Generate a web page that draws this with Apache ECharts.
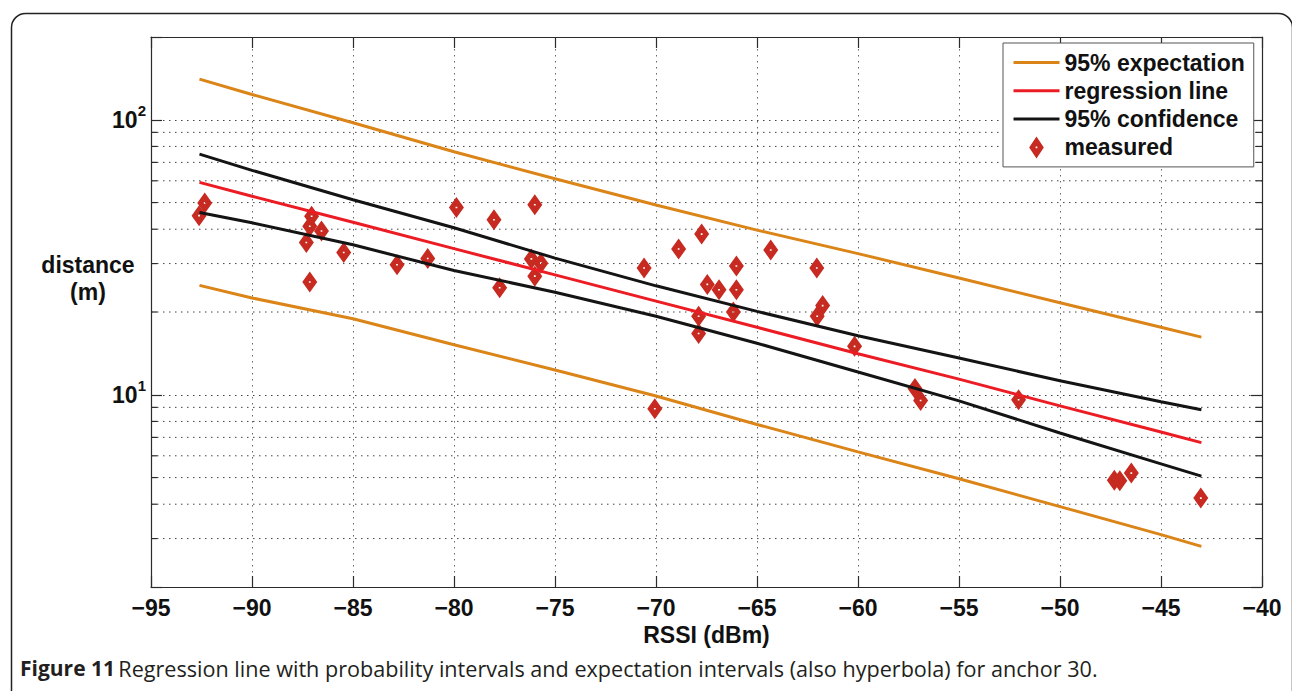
<!DOCTYPE html>
<html><head><meta charset="utf-8">
<script src="https://cdn.jsdelivr.net/npm/echarts@6/dist/echarts.min.js"></script>
<style>html,body{margin:0;padding:0;background:#fff}#c{width:1292px;height:691px}</style>
</head><body><div id="c"></div>
<script>
// ---- data ----
const xMin = -95, xMax = -40, xStep = 5;
const yMin = 2, yMax = 200;
const yMinorTicks = [3, 4, 5, 6, 7, 8, 9, 20, 30, 40, 50, 60, 70, 80, 90];
const curveX = [-92.6, -90, -85, -80, -75, -70, -65, -60, -55, -50, -45, -43];
const expUpper = [140.6, 123.6, 97.5, 76.5, 61.0, 49.0, 39.7, 32.6, 26.6, 21.6, 17.6, 16.2];
const expLower = [25.0, 22.5, 18.9, 15.2, 12.3, 9.9, 7.8, 6.2, 4.95, 3.92, 3.1, 2.81];
const regLine  = [59.2, 52.7, 42.4, 34.0, 27.3, 21.9, 17.6, 14.1, 11.4, 9.11, 7.32, 6.70];
const confUpper = [75, 65.5, 51.2, 40.5, 31.4, 24.9, 20.1, 16.4, 13.6, 11.25, 9.44, 8.82];
const confLower = [46.0, 42.2, 35.1, 28.3, 23.6, 19.3, 15.4, 12.1, 9.5, 7.26, 5.61, 5.06];
const measuredX = [-92.62, -92.34, -87.31, -87.14, -87.05, -86.56, -87.14, -85.46, -82.82, -81.3,
  -79.88, -78.02, -77.74, -76.0, -76.17, -75.7, -76.0, -70.59, -70.06, -68.88,
  -67.74, -67.46, -66.88, -66.02, -66.02, -67.89, -67.89, -66.17, -64.32, -62.04,
  -61.75, -62.02, -60.17, -57.18, -56.9, -52.05, -47.31, -47.04, -46.47, -43.03];
const measuredY = [44.8, 49.8, 35.8, 41.0, 44.6, 39.4, 25.7, 32.9, 29.7, 31.3,
  48.0, 43.3, 24.5, 49.1, 31.2, 30.1, 27.0, 28.9, 8.9, 33.9,
  38.4, 25.2, 24.1, 29.4, 24.1, 19.3, 16.7, 20.0, 33.6, 28.9,
  21.1, 19.3, 15.0, 10.55, 9.53, 9.59, 4.89, 4.87, 5.19, 4.21];
const legendNames = ['95% expectation', 'regression line', '95% confidence', 'measured'];
const captionBold = 'Figure 11';
const captionText = 'Regression line with probability intervals and expectation intervals (also hyperbola) for anchor 30.';

// ---- styles ----
const ORANGE = '#db8418', RED = '#ec1c24', BLACK = '#141414', MARK = '#c72a20';
const FONT = 'Liberation Sans, Arial, Helvetica, sans-serif';
const diamond = 'path://M6,0 L12,9 L6,18 L0,9 Z M5.3,8.3 L5.3,9.7 L6.7,9.7 L6.7,8.3 Z';
const pair = (xs, ys) => xs.map((x, i) => [x, ys[i]]);
const minus = v => (v < 0 ? '\u2212' + Math.abs(v) : String(v));
const dotted = [1.5, 4.5];

const chart = echarts.init(document.getElementById('c'), null, {renderer: 'svg'});
const lineSeries = (name, data, color) => ({
  type: 'line', name, data, xAxisIndex: 0, yAxisIndex: 0, symbol: 'none', z: 3,
  lineStyle: {color, width: 3}, itemStyle: {color}, silent: true, animation: false
});
const legendItem = name => name === 'measured'
  ? {name, icon: diamond, itemStyle: {color: MARK}}
  : {name, itemStyle: {opacity: 0}, lineStyle: {width: 3}};

chart.setOption({
  animation: false,
  backgroundColor: '#fff',
  grid: {left: 151, right: 30, top: 37, bottom: 104, containLabel: false},
  xAxis: [{
    type: 'value', min: xMin, max: xMax, interval: xStep, position: 'bottom',
    axisLine: {show: true, lineStyle: {color: '#2b2b2b', width: 1.2}},
    axisTick: {show: true, inside: true, length: 11, lineStyle: {color: '#2b2b2b', width: 1.2}},
    axisLabel: {formatter: minus, margin: 9, color: '#111', fontSize: 23, fontWeight: 'bold', fontFamily: FONT},
    splitLine: {show: true, lineStyle: {color: '#666', width: 1, type: dotted}},
    name: 'RSSI (dBm)', nameLocation: 'middle', nameGap: 33,
    nameTextStyle: {color: '#111', fontSize: 23, fontWeight: 'bold', fontFamily: FONT}
  }, {
    type: 'value', min: xMin, max: xMax, interval: xStep, position: 'top',
    axisLine: {show: true, lineStyle: {color: '#2b2b2b', width: 1.2}},
    axisTick: {show: true, inside: true, length: 11, lineStyle: {color: '#2b2b2b', width: 1.2}},
    axisLabel: {show: false}, splitLine: {show: false}
  }],
  yAxis: [{
    type: 'log', logBase: 10, min: yMin, max: yMax, position: 'left',
    axisLine: {show: true, lineStyle: {color: '#2b2b2b', width: 1.2}},
    axisTick: {show: true, inside: true, length: 11, lineStyle: {color: '#2b2b2b', width: 1.2}},
    axisLabel: {
      margin: 5, color: '#111', fontFamily: FONT,
      formatter: v => Math.abs(v - 10) < 1e-6 ? '{b|10}{s|1}' : (Math.abs(v - 100) < 1e-6 ? '{b|10}{s|2}' : ''),
      rich: {
        b: {fontSize: 23, fontWeight: 'bold', fontFamily: FONT, color: '#111', lineHeight: 34},
        s: {fontSize: 15, fontWeight: 'bold', fontFamily: FONT, color: '#111', lineHeight: 15, verticalAlign: 'top'}
      }
    },
    splitLine: {show: true, lineStyle: {color: '#444', width: 1, type: dotted}}
  }, {
    type: 'log', logBase: 10, min: yMin, max: yMax, position: 'right',
    axisLine: {show: true, lineStyle: {color: '#2b2b2b', width: 1.2}},
    axisTick: {show: true, inside: true, length: 11, lineStyle: {color: '#2b2b2b', width: 1.2}},
    axisLabel: {show: false}, splitLine: {show: false}
  }],
  legend: {
    data: legendNames.map(legendItem), orient: 'vertical', left: 1003, top: 43,
    padding: [8, 9, 8, 9], itemWidth: 46, itemHeight: 22, itemGap: 5.3,
    backgroundColor: '#fff', borderColor: '#555', borderWidth: 1, borderRadius: 0,
    textStyle: {color: '#111', fontSize: 23, lineHeight: 22, fontWeight: 'bold', fontFamily: FONT},
    selectedMode: false, z: 10
  },
  graphic: [
    {type: 'rect', left: 9, top: 11, shape: {width: 1281, height: 720, r: 14},
     style: {fill: 'none', stroke: '#222', lineWidth: 1.5}, silent: true, z: -1},
    {type: 'text', x: 88, y: 278, style: {text: 'distance\n(m)', align: 'center', verticalAlign: 'middle',
      fontSize: 23, fontWeight: 'bold', fontFamily: FONT, fill: '#111', lineHeight: 27}},
    {type: 'text', x: 20, y: 668, style: {
      text: '{b|' + captionBold + '} {r|' + captionText + '}', verticalAlign: 'middle', align: 'left',
      rich: {
        b: {fontSize: 21, fontWeight: 'bold', fontFamily: 'Open Sans, sans-serif', fill: '#231f20'},
        r: {fontSize: 21.6, fontFamily: 'Open Sans, sans-serif', fill: '#231f20'}
      }}}
  ],
  series: [
    {type: 'scatter', name: 'measured', data: pair(measuredX, measuredY), xAxisIndex: 0, yAxisIndex: 0,
     symbol: diamond, symbolSize: [15, 21], itemStyle: {color: MARK, opacity: 1}, z: 2, silent: true},
    {type: 'custom', name: 'minor-grid', xAxisIndex: 0, yAxisIndex: 0, silent: true, z: 1,
     data: yMinorTicks.map(v => [xMin, v]), encode: {x: 0, y: 1},
     renderItem: (params, api) => {
       const cs = params.coordSys;
       const y = api.coord([api.value(0), api.value(1)])[1];
       const solid = {stroke: '#2b2b2b', lineWidth: 1.2};
       return {type: 'group', children: [
         {type: 'line', shape: {x1: cs.x, y1: y, x2: cs.x + cs.width, y2: y},
          style: {stroke: '#444', lineWidth: 1, lineDash: dotted}},
         {type: 'line', shape: {x1: cs.x, y1: y, x2: cs.x + 6, y2: y}, style: solid},
         {type: 'line', shape: {x1: cs.x + cs.width - 6, y1: y, x2: cs.x + cs.width, y2: y}, style: solid}
       ]};
     }},
    lineSeries('95% expectation', pair(curveX, expUpper), ORANGE),
    lineSeries('95% expectation', pair(curveX, expLower), ORANGE),
    lineSeries('regression line', pair(curveX, regLine), RED),
    lineSeries('95% confidence', pair(curveX, confUpper), BLACK),
    lineSeries('95% confidence', pair(curveX, confLower), BLACK)
  ]
});
</script></body></html>
